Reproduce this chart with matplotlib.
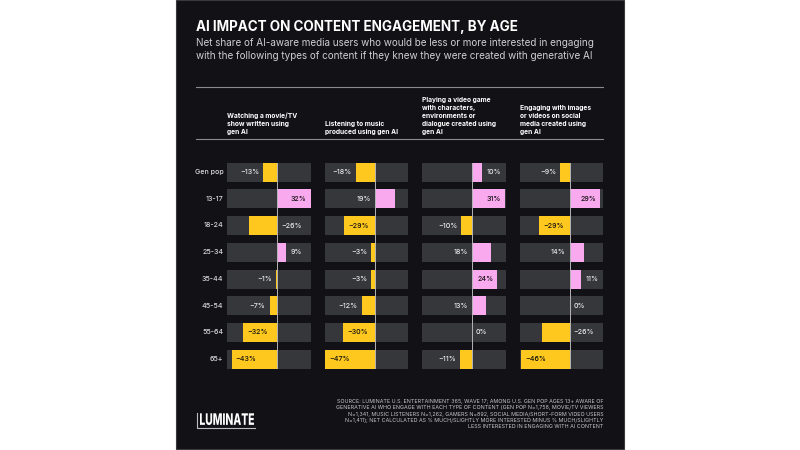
import matplotlib
matplotlib.use('Agg')
import matplotlib.pyplot as plt
from matplotlib.patches import Rectangle, PathPatch
from matplotlib.textpath import TextPath
from matplotlib.font_manager import FontProperties
from matplotlib.transforms import Affine2D, IdentityTransform

plt.rcParams['font.family'] = ['Inter', 'DejaVu Sans']

# data
ages = ['Gen pop', '13-17', '18-24', '25-34', '35-44', '45-54', '55-64', '65+']
headers = [
    'Watching a movie/TV\nshow written using\ngen AI',
    'Listening to music\nproduced using gen AI',
    'Playing a video game\nwith characters,\nenvironments or\ndialogue created using\ngen AI',
    'Engaging with images\nor videos on social\nmedia created using\ngen AI',
]
movie_tv = [-13, 32, -26, 9, -1, -7, -32, -43]
music = [-18, 19, -29, -3, -3, -12, -30, -47]
video_game = [10, 31, -10, 18, 24, 13, 0, -11]
social = [-9, 29, -29, 14, 11, 0, -26, -46]
series = [movie_tv, music, video_game, social]

# where each value label sits: 'out' past bar end, 'in' inside bar, 'opp' other side of zero
label_pos = [
    ['out', 'in', 'opp', 'out', 'out', 'out', 'in', 'in'],
    ['out', 'opp', 'in', 'out', 'out', 'out', 'in', 'in'],
    ['out', 'in', 'out', 'opp', 'in', 'opp', 'out', 'out'],
    ['out', 'in', 'in', 'opp', 'out', 'out', 'opp', 'in'],
]

source = ('SOURCE: LUMINATE U.S. ENTERTAINMENT 365, WAVE 17; AMONG U.S. GEN POP AGES 13+ AWARE OF\n'
          'GENERATIVE AI WHO ENGAGE WITH EACH TYPE OF CONTENT (GEN POP N=1,758, MOVIE/TV VIEWERS\n'
          'N=1,341, MUSIC LISTENERS N=1,262, GAMERS N=892, SOCIAL MEDIA/SHORT-FORM VIDEO USERS\n'
          'N=1,411); NET CALCULATED AS % MUCH/SLIGHTLY MORE INTERESTED MINUS % MUCH/SLIGHTLY\n'
          'LESS INTERESTED IN ENGAGING WITH AI CONTENT')

BG = '#111116'
GREY = '#36373b'
YELLOW = '#ffc81e'
PINK = '#f9a9ee'
XMIN, XMAX = -47, 32

W, H = 800, 450
fig = plt.figure(figsize=(8, 4.5), dpi=100)
fig.patch.set_facecolor('white')


def fx(px):
    return px / W


def fy(py):
    return 1 - py / H


# black card
fig.patches.append(Rectangle((fx(176), fy(449)), fx(624) - fx(176), fy(0) - fy(449),
                             transform=fig.transFigure, facecolor=BG, edgecolor='#3a3a3e',
                             linewidth=0.8, zorder=-10))

fig.text(fx(196), fy(31), 'AI IMPACT ON CONTENT ENGAGEMENT, BY AGE', color='white',
         fontsize=9.7, fontweight='bold', ha='left', va='baseline')
fig.text(fx(196), fy(46), 'Net share of AI-aware media users who would be less or more interested in engaging',
         color='#cfcfd2', fontsize=7.15, ha='left', va='baseline')
fig.text(fx(196), fy(59), 'with the following types of content if they knew they were created with generative AI',
         color='#cfcfd2', fontsize=7.15, ha='left', va='baseline')

for yy in (87.3, 139.3):
    fig.add_artist(plt.Line2D([fx(196), fx(603.3)], [fy(yy), fy(yy)], transform=fig.transFigure,
                              color='#8a8a8e', linewidth=0.8))

panel_left = [227.3, 325, 422.3, 520]
panel_w = 83.4
top, bottom = 162.7, 368.7

for p in range(4):
    ax = fig.add_axes([fx(panel_left[p]), fy(bottom), panel_w / W, (bottom - top) / H])
    ax.set_zorder(2)
    ax.patch.set_alpha(0)
    rows = range(len(ages))
    ax.barh(rows, [XMAX - XMIN] * len(ages), left=XMIN, height=0.71, color=GREY, zorder=1)
    vals = series[p]
    cols = [PINK if v > 0 else YELLOW for v in vals]
    ax.barh(rows, vals, height=0.71, color=cols, zorder=2)
    ax.axvline(0, color='#b5b5b8', linewidth=0.7, zorder=3)
    pad = 3.8
    for i, v in enumerate(vals):
        txt = f'{v}%'.replace('-', '\u2212')
        pos = label_pos[p][i]
        if pos == 'in':
            color = '#111111'
            if v < 0:
                x, ha = v + pad, 'left'
            else:
                x, ha = v - pad, 'right'
        elif pos == 'opp':
            color = '#e6e6e8'
            if v < 0:
                x, ha = pad, 'left'
            else:
                x, ha = -pad, 'right'
        else:
            color = '#e6e6e8'
            if v < 0:
                x, ha = v - pad, 'right'
            else:
                x, ha = v + pad, 'left'
        ax.text(x, i, txt, color=color, fontsize=5.1, fontweight='medium',
                ha=ha, va='center', zorder=4)
    ax.set_xlim(XMIN, XMAX)
    ax.set_ylim(len(ages) - 1 + 0.355, -0.355)
    ax.axis('off')
    fig.text(fx(panel_left[p]), fy(135), headers[p], color='white', fontsize=4.8,
             fontweight='bold', ha='left', va='bottom', linespacing=1.4)

for i, a in enumerate(ages):
    fig.text(fx(223.3), fy(172 + 26.7 * i), a, color='#d8d8da', fontsize=5.1,
             fontweight='medium', ha='right', va='center')

fig.text(fx(603.3), fy(429), source, color='#c8c8cc', fontsize=3.85, ha='right',
         va='bottom', linespacing=1.3)

# logo: condensed word mark with a bracket line
tp = TextPath((0, 0), 'LUMINATE', size=1, prop=FontProperties(family='Inter', weight='heavy'))
bb = tp.get_extents()
lw, lh = 54, 11.7
tr = (Affine2D().translate(-bb.x0, -bb.y0).scale(lw / bb.width, lh / bb.height)
      .translate(200, H - 425))
fig.patches.append(PathPatch(tr.transform_path(tp), transform=IdentityTransform(),
                             facecolor='white', edgecolor='none'))
fig.add_artist(plt.Line2D([fx(196.7), fx(196.7), fx(254.5)], [fy(413), fy(428), fy(428)],
                          transform=fig.transFigure, color='#bdbdc0', linewidth=0.8))

fig.savefig('out.png', dpi=100, facecolor='white')
